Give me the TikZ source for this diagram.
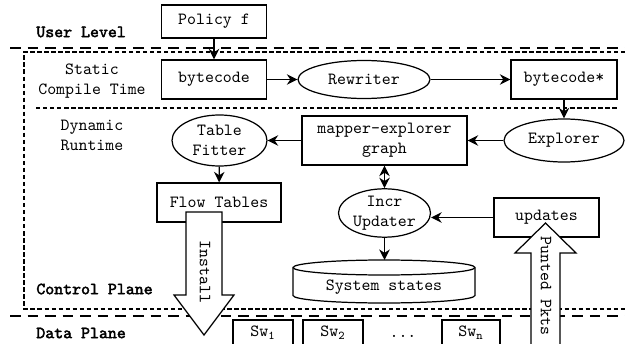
\documentclass[tikz,border=0pt]{standalone}
\usepackage{fontspec}
\setmonofont{Latin Modern Mono}
\newfontfamily\lblfont{Latin Modern Mono}[FakeBold=2.5]
\usetikzlibrary{shapes.geometric,arrows.meta}
\begin{document}
\begin{tikzpicture}[x=0.02cm,y=0.02cm,
    font=\fontsize{9.7}{11.4}\selectfont\ttfamily,
    box/.style={draw,line width=0.7pt,fill=white,inner sep=0pt,align=center},
    oval/.style={draw,ellipse,line width=0.7pt,fill=white,inner sep=0pt,align=center},
    lbl/.style={font=\fontsize{9.7}{11.4}\selectfont\lblfont,anchor=west,inner sep=0pt},
    arr/.style={-{Stealth[length=6pt,width=6pt]},line width=0.8pt},
    darr/.style={{Stealth[length=6pt,width=6pt]}-{Stealth[length=6pt,width=6pt]},line width=0.8pt},
    bigarrow/.style={draw,line width=0.7pt,fill=white,line join=miter},
    plane/.style={line width=1.5pt,dash pattern=on 6pt off 4pt},
    region/.style={line width=0.6pt,dash pattern=on 2.5pt off 1.5pt}]
    \useasboundingbox (0,0) rectangle (625,-344);
    \clip (0,0) rectangle (625,-344);

    \draw[plane] (10,-48) -- (625,-48);
    \draw[plane] (10,-316) -- (625,-316);
    \draw[region] (632,-52) -- (24,-52) -- (24,-309) -- (632,-309);
    \draw[region] (36,-108) -- (617,-108);

    \node[lbl] (userlvl) at (36,-32) {User Level};
    \node[align=center] (static) at (92,-81) {Static\\Compile Time};
    \node[align=center] (dynamic) at (92,-135) {Dynamic\\Runtime};
    \node[lbl] (ctrl) at (36,-289) {Control Plane};
    \node[lbl] (data) at (36,-333) {Data Plane};

    \node[box,minimum width=2.1cm,minimum height=0.66cm] (policy) at (214,-21.5) {Policy f};
    \node[box,minimum width=2.1cm,minimum height=0.78cm] (bc) at (214,-79.5) {bytecode};
    \node[oval,minimum width=2.64cm,minimum height=0.76cm] (rewriter) at (364,-79.5) {Rewriter};
    \node[box,minimum width=2.12cm,minimum height=0.78cm] (bcstar) at (564,-79.5) {bytecode*};
    \node[oval,minimum width=2.4cm,minimum height=0.86cm] (explorer) at (564,-140.5) {Explorer};
    \node[box,minimum width=3.3cm,minimum height=0.98cm] (graph) at (384.5,-140.5) {mapper-explorer\\graph};
    \node[oval,minimum width=1.9cm,minimum height=1.02cm] (fitter) at (219.5,-140.5) {Table\\Fitter};
    \node[box,minimum width=2.48cm,minimum height=0.78cm] (flow) at (219,-202.5) {Flow Tables};
    \node[oval,minimum width=1.84cm,minimum height=0.82cm] (updater) at (384.5,-213) {Incr\\Updater};
    \node[box,minimum width=2.1cm,minimum height=0.78cm] (updates) at (546.5,-217.5) {updates};

    \draw[line width=0.7pt,fill=white] (293,-267.5) -- (293,-295.5)
        arc[start angle=180,end angle=360,x radius=1.82cm,y radius=0.15cm]
        -- (475,-267.5)
        arc[start angle=0,end angle=180,x radius=1.82cm,y radius=0.15cm] -- cycle;
    \draw[line width=0.7pt] (293,-267.5)
        arc[start angle=180,end angle=360,x radius=1.82cm,y radius=0.15cm];
    \coordinate (statestop) at (384.5,-260);
    \node (states) at (384,-287) {System states};

    \node[box,minimum width=1.2cm,minimum height=0.52cm] (sw1) at (263,-333) {Sw\textsubscript{1}};
    \node[box,minimum width=1.2cm,minimum height=0.52cm] (sw2) at (333,-333) {Sw\textsubscript{2}};
    \node (dots) at (403,-336) {...};
    \node[box,minimum width=1.16cm,minimum height=0.52cm] (swn) at (471,-333) {Sw\textsubscript{n}};

    \draw[arr] (policy) -- (bc);
    \draw[arr] (bc) -- (rewriter);
    \draw[arr] (rewriter) -- (bcstar);
    \draw[arr] (bcstar) -- (explorer);
    \draw[arr] (explorer) -- (graph);
    \draw[arr] (graph) -- (fitter);
    \draw[arr] (fitter) -- (flow);
    \draw[darr] (graph) -- (updater);
    \draw[arr] (updates.west) -- (updates.west -| updater.east);
    \draw[arr] (updater) -- (statestop);

    \draw[bigarrow] (186,-212) -- (222,-212) -- (222,-295) -- (234,-295)
        -- (204,-335) -- (174,-295) -- (186,-295) -- cycle;
    \node[rotate=-90] (install) at (205,-272) {Install};

    \draw[bigarrow] (531,-350) -- (531,-253) -- (515,-253) -- (545.5,-223)
        -- (576,-253) -- (560,-253) -- (560,-350) -- cycle;
    \node[rotate=-90] (punted) at (546,-286) {Punted Pkts};
\end{tikzpicture}
\end{document}
